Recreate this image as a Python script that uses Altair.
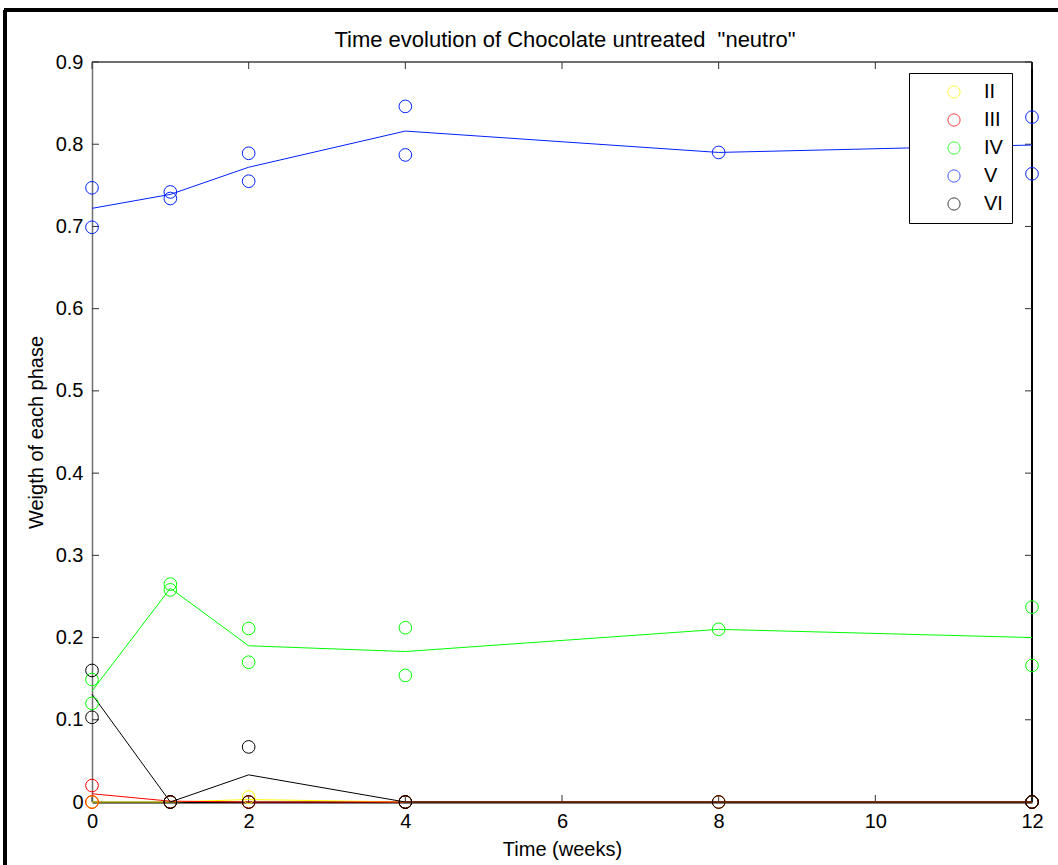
import altair as alt
import pandas as pd

# ---- data ----
phases = ["II", "III", "IV", "V", "VI"]
colors = ["#ffff00", "#ff0000", "#00ff00", "#0022ff", "#000000"]

obs_time = [0, 0, 1, 1, 2, 2, 4, 4, 8, 12, 12]
obs_II = [0, 0, 0, 0, 0.006, 0, 0, 0, 0, 0, 0]
obs_III = [0.020, 0, 0, 0, 0, 0, 0, 0, 0, 0, 0]
obs_IV = [0.149, 0.120, 0.265, 0.258, 0.211, 0.170, 0.212, 0.154, 0.210, 0.237, 0.166]
obs_V = [0.747, 0.699, 0.742, 0.734, 0.789, 0.755, 0.846, 0.787, 0.790, 0.833, 0.764]
obs_VI = [0.160, 0.103, 0, 0, 0.067, 0, 0, 0, 0, 0, 0]

line_time = [0, 1, 2, 4, 8, 12]
line_II = [0, 0, 0.003, 0, 0, 0]
line_III = [0.010, 0.001, 0, 0, 0, 0]
line_IV = [0.135, 0.260, 0.190, 0.183, 0.210, 0.200]
line_V = [0.722, 0.739, 0.772, 0.816, 0.790, 0.799]
line_VI = [0.131, 0, 0.033, 0, 0, 0]

x_ticks = [0, 2, 4, 6, 8, 10, 12]
y_ticks = [0, 0.1, 0.2, 0.3, 0.4, 0.5, 0.6, 0.7, 0.8, 0.9]

# double space kept visible with a non-breaking space
TITLE = 'Time evolution of Chocolate untreated \u00a0"neutro"'

W, H = 940, 740
FONT = "Liberation Sans"

obs_vals = {"II": obs_II, "III": obs_III, "IV": obs_IV, "V": obs_V, "VI": obs_VI}
line_vals = {"II": line_II, "III": line_III, "IV": line_IV, "V": line_V, "VI": line_VI}

pts = pd.DataFrame(
    [{"t": t, "w": v, "phase": p, "order": i} for i, p in enumerate(phases) for t, v in zip(obs_time, obs_vals[p])]
)
lns = pd.DataFrame(
    [{"t": t, "w": v, "phase": p, "order": i} for i, p in enumerate(phases) for t, v in zip(line_time, line_vals[p])]
)
xt = pd.DataFrame({"t": x_ticks})
yt = pd.DataFrame({"w": y_ticks})

xscale = alt.Scale(domain=[0, 12], nice=False, zero=False)
yscale = alt.Scale(domain=[0, 0.9], nice=False)
cscale = alt.Scale(domain=phases, range=colors)

xaxis = alt.Axis(values=x_ticks, title="Time (weeks)", tickSize=0, labelPadding=9, format="d",
                 labelFlush=False, domainColor="#000000", domainWidth=2, grid=False, titlePadding=8,
                 labelFont=FONT, labelFontSize=20, labelColor="#000000",
                 titleFont=FONT, titleFontSize=20, titleFontWeight="normal", titleColor="#000000")
yaxis = alt.Axis(values=y_ticks, title="Weigth of each phase", tickSize=0, labelPadding=9,
                 labelFlush=False, format="~g", domainColor="#707070", domainWidth=1.5, grid=False,
                 titlePadding=9,
                 labelFont=FONT, labelFontSize=20, labelColor="#000000",
                 titleFont=FONT, titleFontSize=20, titleFontWeight="normal", titleColor="#000000")

lines = alt.Chart(lns).mark_line(strokeWidth=1).encode(
    x=alt.X("t:Q", scale=xscale, axis=xaxis),
    y=alt.Y("w:Q", scale=yscale, axis=yaxis),
    color=alt.Color("phase:N", scale=cscale, legend=None),
    detail="phase:N",
    order="t:Q",
)

points = alt.Chart(pts).mark_point(shape="circle", filled=False, size=160, strokeWidth=1, opacity=1).encode(
    x=alt.X("t:Q", scale=xscale),
    y=alt.Y("w:Q", scale=yscale),
    color=alt.Color(
        "phase:N", scale=cscale,
        legend=alt.Legend(
            title=None, orient="none", legendX=817, legendY=11,
            strokeColor="#000000", fillColor="#ffffff", padding=9,
            labelFontSize=20, labelFont=FONT, labelColor="#000000",
            symbolSize=150, symbolStrokeWidth=1, symbolType="circle", symbolOpacity=0.75,
            symbolOffset=26, labelOffset=20, rowPadding=8,
        ),
    ),
    order="order:Q",
)

# inward tick marks on all four sides
tick_len = 7
t_bottom = alt.Chart(xt).mark_rule(color="#333333", strokeWidth=1).encode(
    x=alt.X("t:Q", scale=xscale), y=alt.value(H), y2=alt.value(H - tick_len))
t_top = alt.Chart(xt).mark_rule(color="#333333", strokeWidth=1).encode(
    x=alt.X("t:Q", scale=xscale), y=alt.value(0), y2=alt.value(tick_len))
t_left = alt.Chart(yt).mark_rule(color="#333333", strokeWidth=1).encode(
    y=alt.Y("w:Q", scale=yscale), x=alt.value(0), x2=alt.value(tick_len))
t_right = alt.Chart(yt).mark_rule(color="#333333", strokeWidth=1).encode(
    y=alt.Y("w:Q", scale=yscale), x=alt.value(W), x2=alt.value(W - tick_len))

# box: top (gray) and right (black)
box_top = alt.Chart(xt).mark_rule(color="#707070", strokeWidth=1.5).encode(
    x=alt.value(0), x2=alt.value(W), y=alt.value(0))
box_right = alt.Chart(xt).mark_rule(color="#000000", strokeWidth=1.5).encode(
    x=alt.value(W), y=alt.value(0), y2=alt.value(H))

# outer window frame
frame_left = alt.Chart(xt).mark_rule(color="#000000", strokeWidth=3).encode(
    x=alt.value(-87), y=alt.value(-52), y2=alt.value(H + 63))
frame_top = alt.Chart(xt).mark_rule(color="#000000", strokeWidth=3).encode(
    x=alt.value(-88), x2=alt.value(W + 26), y=alt.value(-52))

# chart title as a text mark (one datum)
title = alt.Chart(pd.DataFrame({"t": [0]})).mark_text(
    text=TITLE, font=FONT, fontSize=22, fontWeight="normal", color="#000000",
    align="center", baseline="middle"
).encode(x=alt.value(W / 2 + 3), y=alt.value(-22))

chart = alt.layer(
    frame_left, frame_top, box_top, box_right,
    t_bottom, t_top, t_left, t_right,
    lines, points, title,
).resolve_legend(color="independent").properties(
    width=W, height=H,
    background="#ffffff",
    autosize=alt.AutoSizeParams(type="none"),
    padding={"left": 92, "top": 62, "right": 26, "bottom": 63},
).configure_view(stroke=None)

chart.save("out.html", embed_options={"renderer": "svg", "actions": False})
